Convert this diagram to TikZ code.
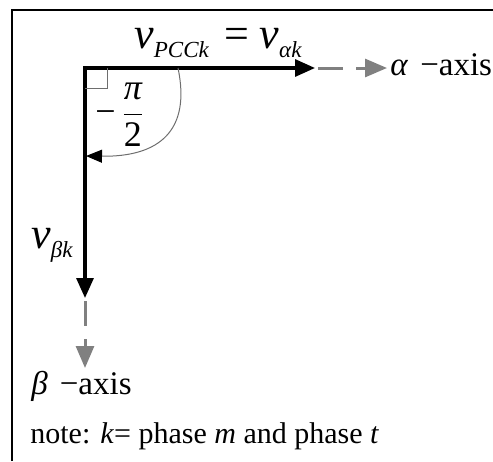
\documentclass[tikz,border=0pt]{standalone}
\usepackage{amsmath}
\usepackage{fontspec}
\setmainfont{Liberation Serif}
\usepackage{tikz}
\usetikzlibrary{arrows.meta}
\usepackage{xcolor}
\definecolor{AxisGray}{RGB}{128,128,128}
\definecolor{ArcGray}{RGB}{110,110,110}
\newcommand{\vsub}[2]{\textit{#1}\raisebox{-4.5pt}{\fontsize{11.5}{12}\selectfont\itshape #2}}

\begin{document}
\begin{tikzpicture}[
    x=0.5pt, y=-0.5pt,
    vec/.style={line width=1.6pt, black},
    axisext/.style={line width=1.5pt, AxisGray, dash pattern=on 12.5pt off 6.5pt,
        -{Triangle[length=11pt, width=9pt]}},
    anglearc/.style={line width=0.5pt, ArcGray, -{Triangle[length=8pt, width=6.5pt, color=black]}},
    lbl/.style={inner sep=0pt, anchor=base west, font=\fontsize{16.5}{18}\selectfont},
    vlbl/.style={inner sep=0pt, anchor=base west, font=\fontsize{22}{24}\selectfont},
]
\useasboundingbox (0,0) rectangle (493,461);
\draw[line width=0.8pt] (12,461) -- (12,10) -- (493,10);

\coordinate (o) at (85,68);
\coordinate (ta) at (315,68);
\coordinate (tb) at (85,298);
\coordinate (sa) at (318,68);
\coordinate (sb) at (85,301);
\coordinate (ea) at (387,68);
\coordinate (eb) at (85,368);
\coordinate (arcs) at (178,68);
\coordinate (arce) at (86,156);

\draw[vec, {Triangle[length=10pt, width=8.5pt]}-{Triangle[length=10pt, width=8.5pt]}] (ta) -- (o) -- (tb);
\draw[axisext] (sa) -- (ea);
\draw[axisext] (sb) -- (eb);

% right angle and rotation
\draw[line width=0.5pt, ArcGray] (85,88) -- (107,88) -- (107,68);
\draw[anglearc] (arcs) .. controls (191,130) and (160,157) .. (arce);

\node[vlbl] (vpcc) at (134,48) {\vsub{v}{PCCk}\hspace{8pt}=\hspace{5pt}\vsub{v}{αk}};
\node[vlbl] (vbeta) at (31,248) {\vsub{v}{βk}};
\node[inner sep=0pt, anchor=base west, font=\fontsize{18}{20}\selectfont] (ang) at (95,123)
    {$\textup{−}\,\dfrac{\textit{π}}{\textup{2}}$};
\node[lbl] (alab) at (390,75) {\textit{α}\hspace{6pt}−axis};
\node[lbl] (blab) at (31,394) {\textit{β}\hspace{6pt}−axis};
\node[inner sep=0pt, anchor=base west, font=\fontsize{15}{16}\selectfont] (note) at (30,443)
    {note: \textit{k}= phase \textit{m} and phase \textit{t}};
\end{tikzpicture}
\end{document}
